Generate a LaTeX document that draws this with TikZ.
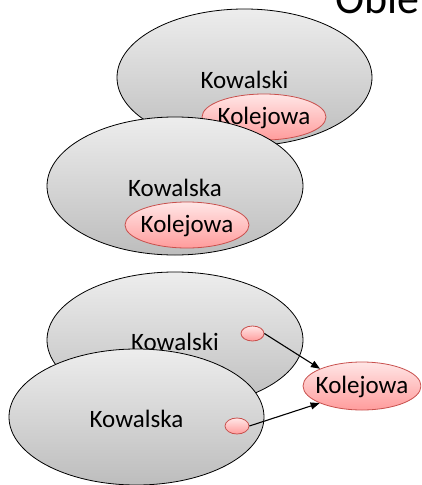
\documentclass[tikz,border=0pt]{standalone}
\usepackage{fontspec}
\setmainfont{Carlito}
\usetikzlibrary{shapes.geometric,arrows.meta}
\definecolor{grayTop}{HTML}{EDEDED}
\definecolor{grayBot}{HTML}{BDBDBD}
\definecolor{pinkTop}{HTML}{FFE6E6}
\definecolor{pinkBot}{HTML}{FF9C9C}
\definecolor{pinkLine}{HTML}{C8504D}
\tikzset{
  objbox/.style={ellipse, draw=black, line width=0.8pt, top color=grayTop, bottom color=grayBot,
    minimum width=#1, inner sep=0pt},
  refbox/.style={ellipse, draw=pinkLine, line width=0.8pt, top color=pinkTop, bottom color=pinkBot,
    inner sep=0pt},
  lbl/.style={font=\fontsize{25}{30}\selectfont, inner sep=0pt},
  link/.style={line width=1.1pt, -{Triangle[length=9pt,width=7pt]}}
}
\begin{document}
\begin{tikzpicture}[x=1pt,y=-1pt]
\useasboundingbox (0,0) rectangle (421,485);
\clip (0,0) rectangle (421,485);
\fill[white] (0,0) rectangle (421,485);

% heading, cut by the top edge
\node[anchor=base west, inner sep=0pt, font=\fontsize{44}{52}\selectfont] (title) at (335,13.5) {Obie};

% embedded copies: each object holds its own address
\node[objbox=255pt, minimum height=137pt] (o1) at (244.5,77.5) {};
\node[lbl] (t1) at (244.5,80) {Kowalski};
\node[refbox, minimum width=124pt, minimum height=46pt] (a1) at (264,117) {};
\node[lbl] at (264,118) {Kolejowa};

\node[objbox=256pt, minimum height=138pt] (o2) at (175,186) {};
\node[lbl] (t2) at (175,188) {Kowalska};
\node[refbox, minimum width=124pt, minimum height=46pt] (a2) at (187,225) {};
\node[lbl] at (187,226) {Kolejowa};

% shared object: both hold a reference to one address
\node[objbox=256pt, minimum height=136pt] (o3) at (175,340) {};
\node[lbl] (t3) at (175,342) {Kowalski};
\node[refbox, minimum width=23pt, minimum height=15pt] (s3) at (252.5,333.5) {};

\node[objbox=255pt, minimum height=136pt] (o4) at (136.5,417) {};
\node[lbl] (t4) at (136.5,419) {Kowalska};
\node[refbox, minimum width=24pt, minimum height=16pt] (s4) at (237,426) {};

\node[refbox, minimum width=118pt, minimum height=48pt] (kr) at (362,386) {};
\node[lbl] at (362,387) {Kolejowa};

\draw[link] (s3.east) -- (kr.north west);
\draw[link] (s4.east) -- (kr.202);
\end{tikzpicture}
\end{document}
